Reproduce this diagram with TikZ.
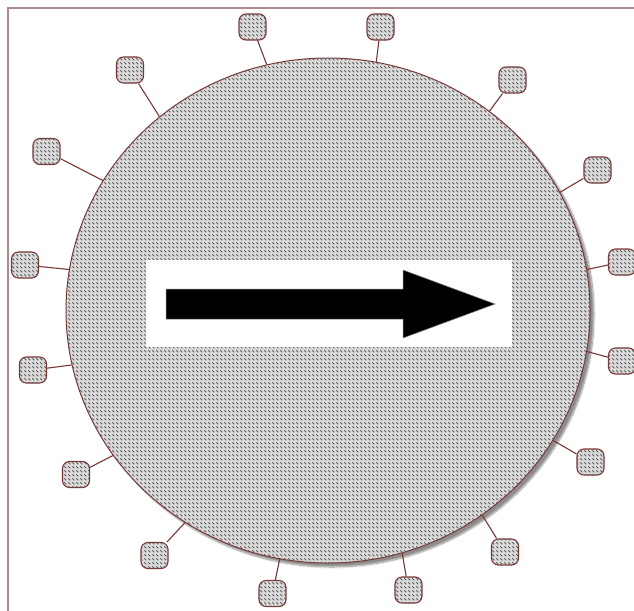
\documentclass[tikz,border=0pt]{standalone}
\usetikzlibrary{shapes.geometric,patterns,shadows.blur}
\definecolor{framec}{HTML}{B08A8A}
\definecolor{edgec}{HTML}{7A3535}
\pgfdeclarepatternformonly{mydiag}{\pgfqpoint{-0.5pt}{-0.5pt}}{\pgfqpoint{4.5pt}{4.5pt}}{\pgfqpoint{4pt}{4pt}}{%
  \pgfsetlinewidth{1pt}%
  \pgfpathmoveto{\pgfqpoint{0.3pt}{3.7pt}}\pgfpathlineto{\pgfqpoint{2.3pt}{1.7pt}}\pgfusepath{stroke}%
}
\tikzset{
  hatched/.style={fill=black!14, postaction={pattern=mydiag, pattern color=black!62}},
  bigc/.style={ellipse, draw=edgec, line width=1pt, hatched, minimum width=524pt, minimum height=505pt, inner sep=0pt,
     blur shadow={shadow xshift=4pt, shadow yshift=-4pt, shadow blur steps=8, shadow opacity=45}},
  sbox/.style={rectangle, rounded corners=7pt, draw=edgec, line width=1.1pt, hatched, minimum width=27pt, minimum height=26pt, inner sep=0pt},
  conn/.style={draw=edgec, line width=1.1pt},
}
\begin{document}
\begin{tikzpicture}[x=1pt,y=-1pt]
\useasboundingbox (0,0) rectangle (634,610);
\draw[framec, line width=1.2pt] (8,612) -- (8,8) -- (636,8);
\node[bigc] (c) at (328,310.5) {};
\node[fill=white, minimum width=366pt, minimum height=87pt, inner sep=0pt] (w) at (329,303.5) {};
\draw[fill=black, draw=black!50, line width=0.5pt] (166,289) -- (403,289) -- (403,270) -- (495,304) -- (403,338) -- (403,319) -- (166,319) -- cycle;
\node[sbox] (b1) at (130,70) {};
\node[sbox] (b2) at (252.5,27) {};
\node[sbox] (b3) at (380.5,27) {};
\node[sbox] (b4) at (512.5,80) {};
\node[sbox] (b5) at (597.5,170) {};
\node[sbox] (b6) at (622,262) {};
\node[sbox] (b7) at (622,361) {};
\node[sbox] (b8) at (590.5,462) {};
\node[sbox] (b9) at (505,552) {};
\node[sbox] (b10) at (408.5,590) {};
\node[sbox] (b11) at (272.5,593.5) {};
\node[sbox] (b12) at (154.5,555.5) {};
\node[sbox] (b13) at (76,474.5) {};
\node[sbox] (b14) at (33,370) {};
\node[sbox] (b15) at (25,265) {};
\node[sbox] (b16) at (46.5,151.5) {};
\draw[conn] (b1) -- (c.131);
\draw[conn] (b2) -- (c.104.6);
\draw[conn] (b3) -- (c.79.3);
\draw[conn] (b4) -- (c.51.2);
\draw[conn] (b5) -- (c.27.4);
\draw[conn] (b6) -- (c.9.3);
\draw[conn] (b7) -- (c.-9.9);
\draw[conn] (b8) -- (c.-30);
\draw[conn] (b9) -- (c.-53.4);
\draw[conn] (b10) -- (c.-73.9);
\draw[conn] (b11) -- (c.-101.1);
\draw[conn] (b12) -- (c.-124.9);
\draw[conn] (b13) -- (c.-146.5);
\draw[conn] (b14) -- (c.-168.4);
\draw[conn] (b15) -- (c.171.5);
\draw[conn] (b16) -- (c.150.4);
\end{tikzpicture}
\end{document}
